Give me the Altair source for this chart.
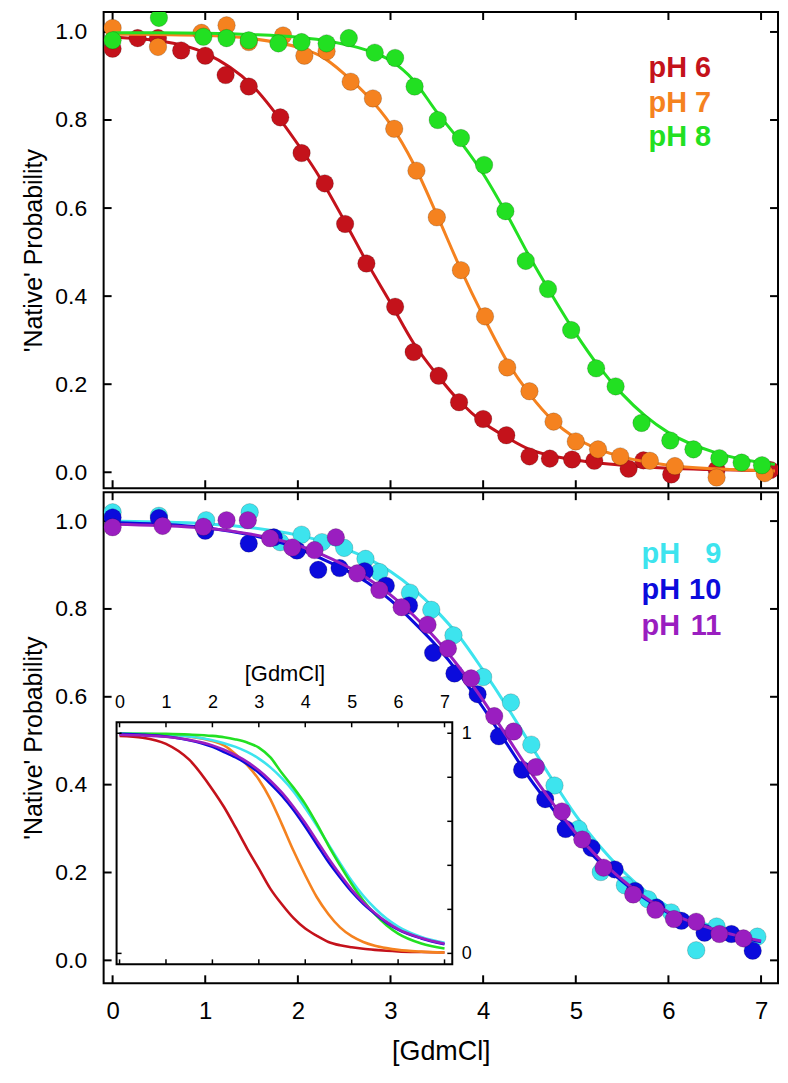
import altair as alt
import pandas as pd

# ---------------- data ----------------
PH6_X = [0.0, 0.27, 0.49, 0.74, 1.0, 1.22, 1.47, 1.81, 2.04, 2.29, 2.51, 2.74, 3.05, 3.25,
         3.52, 3.74, 4.0, 4.25, 4.5, 4.72, 4.96, 5.2, 5.57, 5.73, 6.03, 6.52, 7.1]
PH6_Y = [0.962, 0.986, 0.986, 0.958, 0.946, 0.902, 0.876, 0.806, 0.725, 0.656, 0.564, 0.474,
         0.376, 0.273, 0.219, 0.159, 0.121, 0.084, 0.036, 0.031, 0.029, 0.026, 0.008, 0.027,
         -0.005, 0.006, 0.005]

PH7_X = [0.0, 0.49, 0.96, 1.23, 1.47, 1.84, 2.07, 2.31, 2.57, 2.81, 3.04, 3.28, 3.5, 3.76,
         4.02, 4.26, 4.5, 4.76, 5.0, 5.24, 5.48, 5.8, 6.07, 6.52, 7.04]
PH7_Y = [1.009, 0.966, 0.998, 1.015, 0.977, 0.992, 0.946, 0.956, 0.887, 0.849, 0.780, 0.685,
         0.579, 0.459, 0.354, 0.238, 0.184, 0.115, 0.070, 0.052, 0.036, 0.026, 0.014, -0.012,
         -0.002]

PH8_X = [0.0, 0.5, 0.98, 1.23, 1.47, 1.79, 2.04, 2.31, 2.55, 2.83, 3.05, 3.26, 3.51, 3.76,
         4.01, 4.24, 4.46, 4.70, 4.95, 5.22, 5.43, 5.71, 6.02, 6.27, 6.55, 6.79, 7.01]
PH8_Y = [0.981, 1.032, 0.989, 0.986, 0.981, 0.974, 0.977, 0.974, 0.986, 0.953, 0.941, 0.876,
         0.800, 0.759, 0.698, 0.593, 0.480, 0.416, 0.323, 0.236, 0.195, 0.112, 0.072, 0.052,
         0.032, 0.022, 0.016]

PH9_X = [0.0, 0.5, 1.01, 1.48, 1.81, 2.04, 2.26, 2.5, 2.73, 2.88, 3.21, 3.44, 3.68, 4.0,
         4.3, 4.52, 4.77, 5.03, 5.27, 5.53, 5.78, 6.03, 6.3, 6.52, 6.96]
PH9_Y = [1.02, 1.012, 1.002, 1.02, 0.952, 0.969, 0.952, 0.939, 0.914, 0.884, 0.837, 0.798,
         0.740, 0.645, 0.587, 0.491, 0.398, 0.299, 0.201, 0.171, 0.139, 0.109, 0.023, 0.077,
         0.054]

PH10_X = [0.0, 0.5, 1.0, 1.47, 1.74, 1.99, 2.22, 2.45, 2.72, 2.95, 3.2, 3.46, 3.69, 3.94,
          4.17, 4.42, 4.67, 4.89, 5.17, 5.42, 5.64, 5.87, 6.14, 6.39, 6.68, 6.91]
PH10_Y = [1.008, 1.007, 0.978, 0.949, 0.963, 0.933, 0.889, 0.893, 0.886, 0.853, 0.808, 0.700,
          0.653, 0.606, 0.510, 0.434, 0.367, 0.299, 0.256, 0.207, 0.158, 0.120, 0.090, 0.063,
          0.060, 0.022]

PH11_X = [0.0, 0.54, 0.98, 1.23, 1.46, 1.70, 1.94, 2.18, 2.41, 2.64, 2.88, 3.12, 3.40, 3.62,
          3.87, 4.12, 4.33, 4.57, 4.85, 5.07, 5.30, 5.62, 5.86, 6.06, 6.30, 6.55, 6.81]
PH11_Y = [0.986, 0.989, 0.987, 1.002, 1.002, 0.961, 0.940, 0.934, 0.963, 0.881, 0.843, 0.804,
          0.764, 0.710, 0.642, 0.556, 0.521, 0.440, 0.339, 0.275, 0.211, 0.150, 0.115, 0.094,
          0.088, 0.060, 0.050]

# fitted curves
TOP_CURVE_X = [0.0, 0.5, 1.0, 1.5, 2.0, 2.25, 2.5, 2.75, 3.0, 3.25, 3.5, 3.75, 4.0, 4.25,
               4.5, 4.75, 5.0, 5.25, 5.5, 5.75, 6.0, 6.5, 7.0, 7.15]
FIT6 = [0.988, 0.980, 0.952, 0.880, 0.745, 0.665, 0.572, 0.475, 0.385, 0.293, 0.222, 0.160,
        0.113, 0.080, 0.052, 0.037, 0.028, 0.021, 0.016, 0.012, 0.009, 0.006, 0.004, 0.003]
FIT7 = [0.995, 0.994, 0.992, 0.985, 0.965, 0.945, 0.905, 0.855, 0.790, 0.700, 0.585, 0.465,
        0.355, 0.255, 0.178, 0.118, 0.078, 0.052, 0.035, 0.024, 0.016, 0.008, 0.004, 0.003]
FIT8 = [0.998, 0.998, 0.997, 0.994, 0.988, 0.982, 0.972, 0.958, 0.935, 0.890, 0.818, 0.752,
        0.678, 0.588, 0.490, 0.400, 0.315, 0.240, 0.178, 0.128, 0.090, 0.045, 0.022, 0.018]

BOT_CURVE_X = [0.0, 0.5, 1.0, 1.5, 2.0, 2.25, 2.5, 2.75, 3.0, 3.25, 3.5, 3.75, 4.0, 4.25,
               4.5, 4.75, 5.0, 5.25, 5.5, 5.75, 6.0, 6.5, 7.0]
FIT9 = [1.0, 0.998, 0.994, 0.985, 0.968, 0.955, 0.938, 0.915, 0.885, 0.845, 0.795, 0.735,
        0.660, 0.580, 0.495, 0.410, 0.330, 0.262, 0.205, 0.158, 0.122, 0.075, 0.048]
FIT10 = [0.997, 0.993, 0.985, 0.968, 0.938, 0.915, 0.890, 0.860, 0.820, 0.770, 0.715, 0.650,
         0.575, 0.495, 0.415, 0.345, 0.280, 0.225, 0.180, 0.140, 0.108, 0.068, 0.042]
FIT11 = [0.993, 0.990, 0.984, 0.970, 0.945, 0.925, 0.900, 0.870, 0.832, 0.785, 0.730, 0.665,
         0.592, 0.512, 0.432, 0.358, 0.290, 0.232, 0.184, 0.143, 0.110, 0.070, 0.044]

LABELS_TOP = ["pH 6", "pH 7", "pH 8"]
LABELS_BOT_NUM = ["9", "10", "11"]
X_TICKS = [0, 1, 2, 3, 4, 5, 6, 7]
Y_TICKS = [0.0, 0.2, 0.4, 0.6, 0.8, 1.0]
INSET_Y_LABELS = [0, 1]

# ---------------- styling ----------------
FONT = "Liberation Sans"
RED, ORANGE, GREEN = "#C4121B", "#F5821F", "#22E022"
CYAN, BLUE, PURPLE = "#3DE4EE", "#0B0BDC", "#9A1EC0"

W = 677
H_TOP = 478
H_BOT = 493
TICK = 8

x_main = alt.Scale(domain=[-0.0968, 7.183], nice=False, zero=False)
y_top = alt.Scale(domain=[-0.0362, 1.0452], nice=False, zero=False)
y_bot = alt.Scale(domain=[-0.0522, 1.0658], nice=False, zero=False)

# inset placement (pixels inside the bottom panel)
IX0, IX1, IY0, IY1 = 13, 350, 231, 474
x_in = alt.Scale(domain=[-0.064, 7.167], range=[IX0, IX1], nice=False, zero=False)
y_in = alt.Scale(domain=[-0.0498, 1.0498], range=[IY1, IY0], nice=False, zero=False)

Y_AXIS = alt.Axis(values=Y_TICKS, format=".1f", ticks=False, domain=False, grid=False,
                  labelPadding=17, labelFontSize=23, labelFont=FONT, labelColor="black",
                  title="'Native' Probability", titleFontSize=25, titleFont=FONT,
                  titleFontWeight="normal", titlePadding=8, titleColor="black")
X_AXIS = alt.Axis(values=X_TICKS, format="d", ticks=False, domain=False, grid=False,
                  labelPadding=16, labelFontSize=24, labelFont=FONT, labelColor="black",
                  title="[GdmCl]", titleFontSize=27, titleFont=FONT, titleFontWeight="normal",
                  titlePadding=16, titleColor="black")
IN_X_AXIS = alt.Axis(orient="top", offset=-IY0, values=X_TICKS, format="d", ticks=False,
                     domain=False, grid=False, labelPadding=11, labelFontSize=18,
                     labelFont=FONT, labelColor="black", title="[GdmCl]", titleFontSize=22,
                     titleFont=FONT, titleFontWeight="normal", titlePadding=8,
                     titleColor="black")
IN_Y_AXIS = alt.Axis(orient="right", offset=IX1 - W, values=INSET_Y_LABELS, format="d",
                     ticks=False, domain=False, grid=False, labelPadding=9,
                     labelFontSize=18, labelFont=FONT, labelColor="black", title=None)


def df(xs, ys):
    return pd.DataFrame({"x": xs, "y": ys})


def line(d, color, xs, ys, xa, ya, width=3.0):
    return alt.Chart(d).mark_line(color=color, strokeWidth=width, interpolate="monotone",
                                  clip=True).encode(
        x=alt.X("x:Q", scale=xs, axis=xa), y=alt.Y("y:Q", scale=ys, axis=ya))


def points(d, color, ys, xa, ya):
    return alt.Chart(d).mark_circle(size=310, color=color, opacity=1, stroke="#000000",
                                    strokeOpacity=0.22, strokeWidth=0.8, clip=True).encode(
        x=alt.X("x:Q", scale=x_main, axis=xa), y=alt.Y("y:Q", scale=ys, axis=ya))


def yticks(ys, ya, x0, x1, values=Y_TICKS, sw=2):
    return alt.Chart(pd.DataFrame({"v": values})).mark_rule(color="black", strokeWidth=sw).encode(
        y=alt.Y("v:Q", scale=ys, axis=ya), x=alt.value(x0), x2=alt.value(x1))


def xticks(xs, xa, y0, y1, sw=2):
    return alt.Chart(pd.DataFrame({"v": X_TICKS})).mark_rule(color="black", strokeWidth=sw).encode(
        x=alt.X("v:Q", scale=xs, axis=xa), y=alt.value(y0), y2=alt.value(y1))


def text(label, color, xv, yv, ys, xa, ya, align):
    return alt.Chart(pd.DataFrame({"t": [label]})).mark_text(
        font=FONT, fontSize=29, fontWeight="bold", color=color, align=align,
        baseline="alphabetic").encode(
        text="t:N",
        x=alt.X(datum=xv, scale=x_main, axis=xa),
        y=alt.Y(datum=yv, scale=ys, axis=ya))


# ---------------- top panel ----------------
top_layers = [
    yticks(y_top, Y_AXIS, 0, TICK),
    yticks(y_top, Y_AXIS, W - TICK, W),
    xticks(x_main, None, 0, TICK),
    xticks(x_main, None, H_TOP - TICK, H_TOP),
]
for (px, py, fit, col) in [(PH6_X, PH6_Y, FIT6, RED), (PH7_X, PH7_Y, FIT7, ORANGE),
                           (PH8_X, PH8_Y, FIT8, GREEN)]:
    top_layers.append(line(df(TOP_CURVE_X, fit), col, x_main, y_top, None, Y_AXIS))
    top_layers.append(points(df(px, py), col, y_top, None, Y_AXIS))
for i, (lab, col) in enumerate(zip(LABELS_TOP, [RED, ORANGE, GREEN])):
    top_layers.append(text(lab, col, 5.785, 0.898 - 0.079 * i, y_top, None, Y_AXIS, "left"))

top = alt.layer(*top_layers).properties(width=W, height=H_TOP)

# ---------------- bottom panel ----------------
bot_layers = [
    yticks(y_bot, Y_AXIS, 0, TICK),
    yticks(y_bot, Y_AXIS, W - TICK, W),
    xticks(x_main, X_AXIS, 0, TICK),
    xticks(x_main, X_AXIS, H_BOT - TICK, H_BOT),
]
for (px, py, fit, col) in [(PH9_X, PH9_Y, FIT9, CYAN), (PH10_X, PH10_Y, FIT10, BLUE),
                           (PH11_X, PH11_Y, FIT11, PURPLE)]:
    bot_layers.append(line(df(BOT_CURVE_X, fit), col, x_main, y_bot, X_AXIS, Y_AXIS))
    bot_layers.append(points(df(px, py), col, y_bot, X_AXIS, Y_AXIS))
for i, (num, col) in enumerate(zip(LABELS_BOT_NUM, [CYAN, BLUE, PURPLE])):
    yy = 0.905 - 0.082 * i
    bot_layers.append(text("pH", col, 5.71, yy, y_bot, X_AXIS, Y_AXIS, "left"))
    bot_layers.append(text(num, col, 6.57, yy, y_bot, X_AXIS, Y_AXIS, "right"))

main_bot = alt.layer(*bot_layers)

# ---------------- inset ----------------
inset_layers = [
    alt.Chart(pd.DataFrame({"a": [0]})).mark_rect(fill="white", stroke="black",
                                                  strokeWidth=2).encode(
        x=alt.value(IX0), x2=alt.value(IX1), y=alt.value(IY0), y2=alt.value(IY1)),
]
for (cx, fit, col) in [(TOP_CURVE_X, FIT6, RED), (TOP_CURVE_X, FIT7, ORANGE),
                       (BOT_CURVE_X, FIT9, CYAN), (TOP_CURVE_X, FIT8, GREEN),
                       (BOT_CURVE_X, FIT10, BLUE), (BOT_CURVE_X, FIT11, PURPLE)]:
    inset_layers.append(
        alt.Chart(df(cx, fit)).transform_filter("datum.x <= 7.05").mark_line(
            color=col, strokeWidth=2.6, interpolate="monotone").encode(
            x=alt.X("x:Q", scale=x_in, axis=IN_X_AXIS),
            y=alt.Y("y:Q", scale=y_in, axis=IN_Y_AXIS)))
inset_layers += [
    xticks(x_in, IN_X_AXIS, IY0, IY0 + 5, sw=1.5),
    xticks(x_in, IN_X_AXIS, IY1 - 5, IY1, sw=1.5),
    yticks(y_in, IN_Y_AXIS, IX1 - 5, IX1, sw=1.5),
    yticks(y_in, IN_Y_AXIS, IX0, IX0 + 5, values=INSET_Y_LABELS, sw=1.5),
]
inset = alt.layer(*inset_layers)

bottom = alt.layer(main_bot, inset).resolve_scale(
    x="independent", y="independent").resolve_axis(
    x="independent", y="independent").properties(width=W, height=H_BOT)

chart = alt.vconcat(top, bottom, spacing=0).properties(
    padding={"left": 13, "top": 0, "right": 0, "bottom": 4}
).configure_view(stroke="black", strokeWidth=2).configure_axis(grid=False)

chart.save("out.html", embed_options={"renderer": "svg", "actions": False})
